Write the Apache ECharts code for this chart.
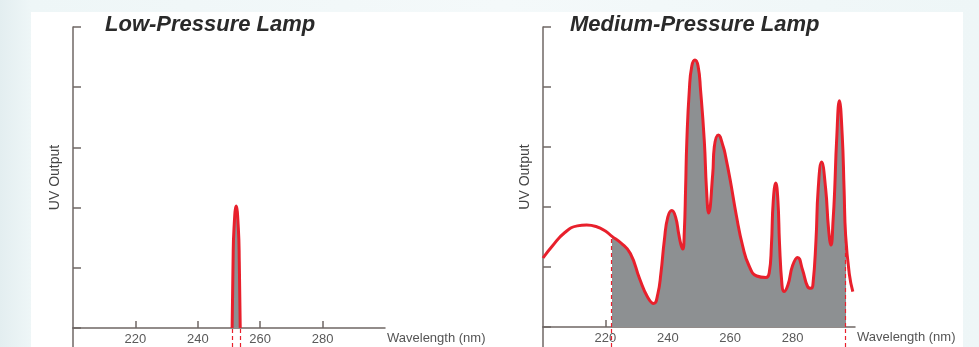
<!DOCTYPE html>
<html>
<head>
<meta charset="utf-8">
<script src="https://cdn.jsdelivr.net/npm/echarts@6/dist/echarts.min.js"></script>
<style>
  html, body { margin: 0; padding: 0; }
  body {
    width: 979px; height: 347px; overflow: hidden; position: relative;
    background: linear-gradient(to right, #e3eef0 0px, #eef6f7 31px, #f4f9fa 500px, #eef6f7 979px);
  }
  .panel { position: absolute; left: 31px; top: 12px; width: 932px; height: 335px; background: #fff; }
  #chart { position: absolute; left: 0; top: 0; width: 979px; height: 347px; }
</style>
</head>
<body>
<div class="panel"></div>
<div id="chart"></div>
<script>
// wavelength axis (nm)
const xMin = 200
const xMax = 300
const xStep = 20
const yMax = 100

// low-pressure lamp: single line near 254 nm
const lowNm = [251.0, 251.3, 251.6, 252.3, 253.0, 253.3, 253.6]
const lowVal = [0, 22, 33, 40.5, 33, 22, 0]

// medium-pressure lamp spectrum
const medNm = [200, 203, 207, 211, 214, 217, 220, 222, 225, 228, 231, 233.5, 235.5,
  236.8, 237.8, 238.9, 240, 241.3, 242.5, 243.5, 244.2, 244.8,
  245.3, 245.7, 246.1, 246.9, 247.7, 248.7, 249.7, 250.5, 251.7, 252.4, 253.1,
  254.4, 254.9, 256.2, 257.8, 258.5, 260, 262, 264, 266, 268.5, 271.5,
  272.5, 273.2, 273.8, 274.6, 275.3, 275.8, 276.6, 277.2,
  278.5, 280, 281.6, 283.2, 284.8, 285.9,
  286.5, 287.5, 288.2, 289.3, 290.6, 291.5, 292.3,
  293.0, 293.5, 294.1, 295.0, 295.9, 296.5, 297, 298.2, 299.3]
const medVal = [23, 27, 31.5, 33.7, 34, 33.5, 32, 30.3, 28, 24.5, 16, 10, 7.8,
  11, 18, 29, 36.6, 38.8, 36.6, 31, 27.5, 26,
  32, 46, 62, 79, 87, 89, 87, 79, 62, 46, 38,
  51, 60, 64, 60, 57, 49, 37, 27, 20.5, 17, 16.5,
  18, 27, 42, 48, 42, 28, 14, 11.8,
  14, 20.5, 23.2, 19, 13.5, 12.9,
  14, 29, 46, 55, 46, 33, 27.3,
  36, 46, 62, 75.4, 64, 46, 30.5, 17.5, 11.8]
// shaded germicidal band
const bandFrom = 222
const bandTo = 297

const red = '#e8202c'
const grayFill = '#8d9092'
const axisColor = '#6f6764'
const font = 'Liberation Sans, Arial, sans-serif'

const pairs = (xs, ys) => xs.map((x, i) => [x, ys[i]])
const lowData = pairs(lowNm, lowVal)
const medData = pairs(medNm, medVal)
const valAt = (nm) => medVal[medNm.indexOf(nm)]

const chart = echarts.init(document.getElementById('chart'))

const mainX = (gi) => ({
  type: 'value', gridIndex: gi, min: xMin, max: xMax, interval: xStep,
  axisLine: { lineStyle: { color: axisColor, width: 1.5 } },
  axisTick: { inside: true, length: 7, lineStyle: { color: axisColor, width: 1.5 } },
  axisLabel: { showMinLabel: false, showMaxLabel: false, color: '#5a5a5a', fontSize: 13, fontFamily: font, margin: 5 },
  splitLine: { show: false },
  name: 'Wavelength (nm)', nameLocation: 'end', nameGap: 2,
  nameTextStyle: { color: '#555', fontSize: 13, fontFamily: font, align: 'left', verticalAlign: 'top', padding: [4, 0, 0, 0] }
})
const mainY = (gi) => ({
  type: 'value', gridIndex: gi, min: 0, max: yMax, interval: 20,
  axisLine: { show: true, lineStyle: { color: axisColor, width: 1.5 } },
  axisTick: { show: true, inside: true, length: 8, lineStyle: { color: axisColor, width: 1.5 } },
  axisLabel: { show: false },
  splitLine: { show: false },
  name: 'UV Output', nameLocation: 'middle', nameRotate: 90, nameGap: 11,
  nameTextStyle: { color: '#444', fontSize: 14, fontFamily: font }
})
const lowX = (gi) => ({ type: 'value', gridIndex: gi, min: xMin, max: xMax, show: false })
const lowY = (gi) => ({
  type: 'value', gridIndex: gi, min: 0, max: 1,
  axisLine: { show: true, lineStyle: { color: axisColor, width: 1.5 } },
  axisTick: { show: false }, axisLabel: { show: false }, splitLine: { show: false }
})
const dashed = { color: red, type: [4, 3], width: 1.2 }
const titleStyle = { fontSize: 22, fontStyle: 'italic', fontWeight: 'bold', color: '#2a2a2a', fontFamily: font }

chart.setOption({
  animation: false,
  title: [
    { text: 'Low-Pressure Lamp', left: 105, top: 14, padding: 0, textStyle: titleStyle },
    { text: 'Medium-Pressure Lamp', left: 570, top: 14, padding: 0, textStyle: titleStyle }
  ],
  grid: [
    { left: 73, top: 27, width: 312, height: 301 },
    { left: 73, top: 328, width: 312, height: 19 },
    { left: 543, top: 27, width: 312, height: 300 },
    { left: 543, top: 327, width: 312, height: 20 }
  ],
  xAxis: [mainX(0), lowX(1), mainX(2), lowX(3)],
  yAxis: [mainY(0), lowY(1), mainY(2), lowY(3)],
  // only the band between the dashed lines is shaded
  visualMap: {
    type: 'piecewise', show: false, dimension: 0, seriesIndex: 2,
    pieces: [{ gte: bandFrom, lte: bandTo, color: grayFill }],
    outOfRange: { color: 'rgba(255,255,255,0)' }
  },
  series: [
    {
      type: 'line', xAxisIndex: 0, yAxisIndex: 0, data: lowData, smooth: true, symbol: 'none',
      lineStyle: { color: red, width: 3 }, areaStyle: { color: grayFill, opacity: 1 }, z: 3
    },
    {
      type: 'line', xAxisIndex: 1, yAxisIndex: 1, data: [], symbol: 'none',
      markLine: { silent: true, symbol: 'none', label: { show: false }, lineStyle: dashed,
        data: [{ xAxis: lowNm[0] }, { xAxis: lowNm[lowNm.length - 1] }] }
    },
    {
      type: 'line', xAxisIndex: 2, yAxisIndex: 2, data: medData, smooth: true, symbol: 'none',
      lineStyle: { width: 0 }, areaStyle: { opacity: 1 }, z: 2,
      markLine: { silent: true, symbol: 'none', label: { show: false }, lineStyle: dashed,
        data: [
          [{ coord: [bandFrom, 0] }, { coord: [bandFrom, valAt(bandFrom)] }],
          [{ coord: [bandTo, 0] }, { coord: [bandTo, valAt(bandTo)] }]
        ] }
    },
    {
      type: 'line', xAxisIndex: 2, yAxisIndex: 2, data: medData, smooth: true, symbol: 'none',
      lineStyle: { color: red, width: 3 }, z: 3
    },
    {
      type: 'line', xAxisIndex: 3, yAxisIndex: 3, data: [], symbol: 'none',
      markLine: { silent: true, symbol: 'none', label: { show: false }, lineStyle: dashed,
        data: [{ xAxis: bandFrom }, { xAxis: bandTo }] }
    }
  ]
})
</script>
</body>
</html>
